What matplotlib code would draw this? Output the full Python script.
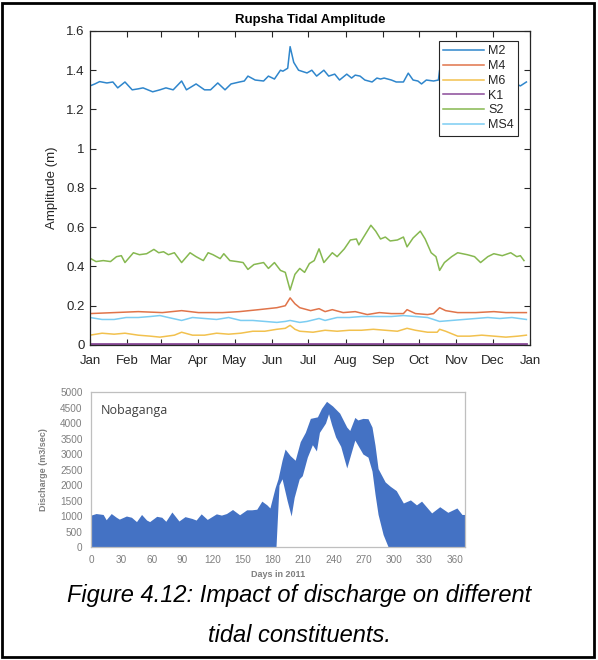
import numpy as np
import matplotlib
matplotlib.use("Agg")
import matplotlib.pyplot as plt
from matplotlib.patches import Rectangle

plt.rcParams['font.family'] = ['Liberation Sans', 'DejaVu Sans']

# tidal constituent amplitudes (m), day of year 2011
m2_days = [0, 4, 8, 14, 19, 23, 29, 35, 40, 44, 52, 58, 63, 69, 76, 80, 88, 95, 100, 106,
           112, 117, 124, 128, 131, 137, 144, 148, 153, 158, 160, 164, 166, 169, 173, 180,
           184, 188, 194, 198, 203, 207, 213, 217, 220, 224, 228, 234, 238, 241, 244, 247,
           250, 254, 260, 264, 268, 272, 275, 279, 285, 289, 290, 295, 300, 310, 320, 330,
           340, 350, 357, 362]
m2_amp = [1.32, 1.33, 1.342, 1.335, 1.34, 1.31, 1.34, 1.30, 1.305, 1.31, 1.29, 1.30, 1.31,
          1.30, 1.345, 1.30, 1.33, 1.30, 1.30, 1.335, 1.30, 1.33, 1.34, 1.345, 1.37, 1.35,
          1.345, 1.37, 1.355, 1.40, 1.395, 1.41, 1.52, 1.44, 1.40, 1.386, 1.40, 1.37, 1.40,
          1.37, 1.38, 1.35, 1.38, 1.36, 1.375, 1.37, 1.35, 1.34, 1.36, 1.355, 1.36, 1.355,
          1.35, 1.34, 1.34, 1.385, 1.35, 1.345, 1.33, 1.35, 1.345, 1.35, 1.40, 1.41, 1.39,
          1.37, 1.36, 1.37, 1.35, 1.34, 1.32, 1.34]

s2_days = [0, 5, 11, 17, 22, 26, 29, 36, 41, 47, 53, 57, 61, 65, 70, 76, 83, 88, 94, 98,
           102, 108, 111, 116, 122, 127, 131, 136, 144, 148, 153, 158, 162, 166, 170, 174,
           178, 182, 186, 190, 194, 201, 205, 211, 216, 221, 223, 229, 233, 237, 241, 245,
           249, 255, 260, 263, 268, 274, 278, 283, 287, 290, 294, 300, 305, 313, 319, 324,
           330, 335, 342, 349, 354, 357, 360]
s2_amp = [0.442, 0.425, 0.43, 0.425, 0.45, 0.455, 0.42, 0.47, 0.46, 0.465, 0.487, 0.47,
          0.475, 0.46, 0.47, 0.42, 0.47, 0.45, 0.43, 0.47, 0.46, 0.44, 0.465, 0.43, 0.425,
          0.42, 0.385, 0.41, 0.42, 0.39, 0.42, 0.38, 0.37, 0.28, 0.36, 0.39, 0.37, 0.415,
          0.43, 0.49, 0.42, 0.47, 0.45, 0.49, 0.535, 0.54, 0.51, 0.57, 0.61, 0.58, 0.54,
          0.55, 0.53, 0.535, 0.55, 0.50, 0.545, 0.58, 0.54, 0.47, 0.45, 0.38, 0.42, 0.45,
          0.47, 0.46, 0.45, 0.42, 0.45, 0.465, 0.455, 0.47, 0.45, 0.455, 0.43]

m4_days = [0, 20, 40, 60, 76, 90, 110, 124, 140, 155, 162, 166, 170, 174, 183, 190, 195,
           201, 210, 220, 230, 240, 250, 260, 263, 270, 280, 285, 290, 295, 305, 320, 335,
           345, 362]
m4_amp = [0.16, 0.165, 0.17, 0.165, 0.175, 0.165, 0.165, 0.17, 0.18, 0.19, 0.20, 0.24,
          0.21, 0.19, 0.175, 0.185, 0.17, 0.18, 0.165, 0.17, 0.155, 0.165, 0.16, 0.16,
          0.18, 0.16, 0.155, 0.16, 0.19, 0.175, 0.165, 0.165, 0.17, 0.165, 0.165]

m6_days = [0, 10, 20, 29, 40, 50, 58, 70, 76, 85, 95, 105, 115, 125, 135, 145, 155, 162,
           166, 170, 174, 185, 195, 205, 215, 225, 235, 245, 255, 263, 270, 280, 288, 290,
           295, 305, 315, 325, 335, 345, 355, 362]
m6_amp = [0.05, 0.06, 0.055, 0.06, 0.05, 0.045, 0.04, 0.05, 0.065, 0.05, 0.05, 0.06, 0.055,
          0.06, 0.07, 0.07, 0.08, 0.085, 0.10, 0.08, 0.07, 0.065, 0.075, 0.07, 0.075, 0.075,
          0.08, 0.075, 0.07, 0.085, 0.075, 0.065, 0.065, 0.08, 0.07, 0.045, 0.045, 0.05,
          0.045, 0.04, 0.045, 0.05]

k1_days = [0, 60, 120, 180, 240, 300, 362]
k1_amp = [0.004, 0.004, 0.004, 0.004, 0.004, 0.004, 0.004]

ms4_days = [0, 10, 20, 30, 40, 50, 58, 65, 76, 85, 95, 105, 115, 125, 135, 145, 155, 162,
            166, 174, 180, 190, 195, 205, 215, 225, 240, 250, 260, 270, 280, 290, 300, 310,
            320, 330, 340, 350, 362]
ms4_amp = [0.14, 0.13, 0.13, 0.14, 0.14, 0.145, 0.15, 0.14, 0.125, 0.14, 0.135, 0.13, 0.14,
           0.125, 0.125, 0.12, 0.115, 0.12, 0.125, 0.115, 0.12, 0.135, 0.125, 0.14, 0.14,
           0.145, 0.145, 0.145, 0.15, 0.145, 0.14, 0.12, 0.125, 0.13, 0.135, 0.14, 0.135,
           0.14, 0.13]

month_days = [0, 31, 59, 90, 120, 151, 181, 212, 243, 273, 304, 334, 365]
month_labels = ['Jan', 'Feb', 'Mar', 'Apr', 'May', 'Jun', 'Jul', 'Aug', 'Sep', 'Oct',
                'Nov', 'Dec', 'Jan']

# Nobaganga discharge envelope (m3/sec)
q_top_days = [0, 5, 12, 15, 20, 25, 28, 35, 40, 45, 50, 55, 58, 65, 70, 74, 80, 87, 93,
              100, 104, 109, 115, 124, 129, 134, 140, 147, 154, 159, 164, 169, 174, 177,
              182, 185, 189, 192, 197, 202, 207, 212, 217, 224, 228, 233, 239, 246, 253,
              256, 261, 264, 269, 274, 278, 281, 284, 291, 296, 302, 309, 316, 322, 327,
              337, 345, 353, 362, 367, 370]
q_top = [1030, 1080, 1050, 880, 1080, 960, 900, 1000, 960, 820, 1050, 870, 820, 990, 960,
         830, 1130, 840, 980, 920, 870, 1070, 890, 1070, 1030, 1080, 1210, 1040, 1200, 1200,
         1220, 1480, 1360, 1260, 1900, 2200, 2800, 3160, 2950, 2800, 3400, 3700, 4150, 4200,
         4470, 4700, 4550, 4320, 3870, 3760, 4180, 4100, 4150, 4140, 3870, 3280, 2530, 2100,
         1960, 1820, 1420, 1520, 1360, 1480, 1100, 1300, 1120, 1260, 1050, 1050]
q_low_days = [0, 183, 186, 189, 194, 198, 201, 206, 209, 214, 219, 223, 226, 232, 235, 238,
              242, 247, 253, 261, 269, 274, 278, 281, 284, 289, 294, 370]
q_low = [0, 0, 2000, 2200, 1500, 1000, 1600, 2200, 2300, 2900, 3300, 3100, 3700, 4000,
         4300, 3950, 3550, 3250, 2550, 3450, 3000, 2900, 2450, 1700, 1050, 400, 0, 0]

fig = plt.figure(figsize=(5.98, 6.6), dpi=100)
fig.patches.append(Rectangle((0.004, 0.004), 0.99, 0.992, transform=fig.transFigure,
                             fill=False, edgecolor='black', linewidth=2))

# --- top: tidal amplitudes -------------------------------------------------
ax = fig.add_axes([0.1505, 0.4773, 0.7358, 0.4758])
dark = '#262626'
series = [
    ('M2', m2_days, m2_amp, '#2f86cc', 1.1),
    ('M4', m4_days, m4_amp, '#e0744a', 1.1),
    ('M6', m6_days, m6_amp, '#f2c14e', 1.1),
    ('K1', k1_days, k1_amp, '#8a4a98', 2.0),
    ('S2', s2_days, s2_amp, '#86b850', 1.1),
    ('MS4', ms4_days, ms4_amp, '#7ccdf2', 1.1),
]
for name, d, a, c, lw in series:
    ax.plot(d, a, color=c, lw=lw, label=name)

ax.set_xlim(0, 365)
ax.set_ylim(0, 1.6)
ax.set_xticks(month_days)
ax.set_xticklabels(month_labels)
ax.set_yticks([0, 0.2, 0.4, 0.6, 0.8, 1.0, 1.2, 1.4, 1.6])
ax.set_yticklabels(['0', '0.2', '0.4', '0.6', '0.8', '1', '1.2', '1.4', '1.6'])
ax.tick_params(direction='in', top=True, right=True, length=4, width=0.8,
               colors=dark, labelsize=9.5, pad=4)
ax.tick_params(axis='x', pad=7)
for sp in ax.spines.values():
    sp.set_color(dark)
    sp.set_linewidth(0.9)
ax.set_title('Rupsha Tidal Amplitude', fontsize=9.5, fontweight='bold', color='black', pad=6)
ax.set_ylabel('Amplitude (m)', fontsize=9.5, color=dark, labelpad=6)
leg = ax.legend(loc='upper right', bbox_to_anchor=(0.973, 0.968), borderaxespad=0,
                fontsize=9, labelspacing=0.22, handlelength=3.3, handletextpad=0.3,
                borderpad=0.35, fancybox=False, framealpha=1, edgecolor=dark)
leg.get_frame().set_linewidth(0.8)
for h in leg.legend_handles:
    h.set_linewidth(1.1)
for t in leg.get_texts():
    t.set_color(dark)

# --- bottom: discharge ---------------------------------------------------
bx = fig.add_axes([0.1522, 0.1712, 0.6254, 0.2348])
days = np.arange(0, 371)
upper = np.interp(days, q_top_days, q_top)
lower = np.interp(days, q_low_days, q_low)
bx.fill_between(days, lower, upper, color='#4472c4', lw=0)
bx.set_xlim(0, 370)
bx.set_ylim(0, 5000)
bx.set_xticks(np.arange(0, 361, 30))
bx.set_yticks(np.arange(0, 5001, 500))
grey = '#7f7f7f'
bx.tick_params(length=0, labelsize=7.2, colors=grey, pad=6)
for sp in bx.spines.values():
    sp.set_color('#bfbfbf')
    sp.set_linewidth(0.9)
bx.text(0.025, 0.92, 'Nobaganga', transform=bx.transAxes, fontsize=9, color='#404040',
        family=['Open Sans', 'DejaVu Sans'], va='top')
bx.set_xlabel('Days in 2011', fontsize=6.5, fontweight='bold', color=grey, labelpad=3)
bx.set_ylabel('Discharge (m3/sec)', fontsize=6.5, fontweight='bold', color=grey, labelpad=9)

fig.text(0.5, 0.097, 'Figure 4.12: Impact of discharge on different', ha='center',
         va='center', fontsize=17, style='italic', color='black')
fig.text(0.5, 0.037, 'tidal constituents.', ha='center', va='center', fontsize=17,
         style='italic', color='black')

fig.savefig('out.png', dpi=100)
